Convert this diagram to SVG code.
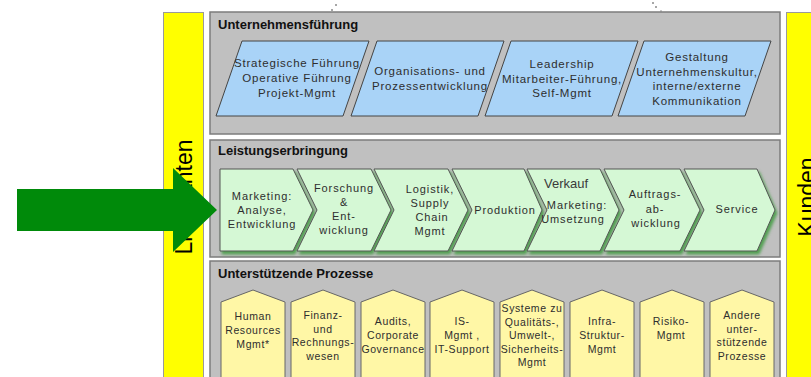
<svg xmlns="http://www.w3.org/2000/svg" width="811" height="377" viewBox="0 0 811 377">
<defs>
<filter id="gshadow" x="-10%" y="-10%" width="130%" height="130%">
<feGaussianBlur in="SourceAlpha" stdDeviation="1.6" result="b"/>
<feOffset in="b" dx="2" dy="3" result="o"/>
<feFlood flood-color="#3f9a3f" flood-opacity="0.85"/>
<feComposite in2="o" operator="in" result="s"/>
<feMerge><feMergeNode in="s"/><feMergeNode in="SourceGraphic"/></feMerge>
</filter>
</defs>
<style>
.col{fill:#ffff00;stroke:#9a9a9a;stroke-width:1}
.panel{fill:#c0c0c0;stroke:#7c7c7c;stroke-width:1.5}
.title{font-family:"Liberation Sans",Arial,sans-serif;font-weight:bold;font-size:13px;fill:#111}
.par{fill:#a9d3f7;stroke:#444;stroke-width:1}
.chev{fill:#d5f8d5;stroke:#555;stroke-width:1;filter:url(#gshadow)}
.pent{fill:#fff7a6;stroke:#666;stroke-width:1}
.t1{font-family:"Liberation Sans",Arial,sans-serif;font-size:11.5px;letter-spacing:0.8px;fill:#2e2e2e;text-anchor:middle}
.t2{font-family:"Liberation Sans",Arial,sans-serif;font-size:11px;letter-spacing:0.9px;fill:#2e2e2e;text-anchor:middle}
.t3{font-family:"Liberation Sans",Arial,sans-serif;font-size:10.5px;letter-spacing:0.6px;fill:#2e2e2e;text-anchor:middle}
.big{font-family:"Liberation Sans",Arial,sans-serif;font-size:23px;fill:#000;text-anchor:middle}
.dot{fill:#8a8a8a}
</style>

<g id="artifacts">
<circle class="dot" cx="336" cy="5" r="1"/>
<circle class="dot" cx="332" cy="10" r="1"/>
<circle class="dot" cx="653" cy="3" r="1"/>
<circle class="dot" cx="656" cy="7" r="1"/>
<circle class="dot" cx="661" cy="11" r="0.8"/>
</g>

<g id="lieferanten">
<rect class="col" x="163.5" y="12.5" width="40" height="370"/>
<text class="big" transform="translate(192,197) rotate(-90)">Lieferanten</text>
</g>
<g id="kunden">
<rect class="col" x="786.5" y="12.5" width="40" height="370"/>
<text class="big" transform="translate(815,197) rotate(-90)">Kunden</text>
</g>

<g id="panel-unternehmensfuehrung">
<rect class="panel" x="210" y="12" width="570" height="122"/>
<text class="title" x="218" y="29">Unternehmensführung</text>
</g>
<g id="panel-leistungserbringung">
<rect class="panel" x="210" y="140" width="570" height="117"/>
<text class="title" x="218" y="155">Leistungserbringung</text>
</g>
<g id="panel-unterstuetzende">
<rect class="panel" x="210" y="261" width="570" height="125"/>
<text class="title" x="218" y="278">Unterstützende Prozesse</text>
</g>

<g id="u1">
<polygon class="par" points="242,41 369,41 343,116 216,116"/>
<text class="t1" x="297" y="67">Strategische Führung</text>
<text class="t1" x="297" y="82">Operative Führung</text>
<text class="t1" x="297" y="97">Projekt-Mgmt</text>
</g>
<g id="u2">
<polygon class="par" points="377,41 504,41 478,116 351,116"/>
<text class="t1" x="430" y="75">Organisations- und</text>
<text class="t1" x="430" y="90">Prozessentwicklung</text>
</g>
<g id="u3">
<polygon class="par" points="511,41 638,41 612,116 485,116"/>
<text class="t1" x="562" y="68">Leadership</text>
<text class="t1" x="562" y="83">Mitarbeiter-Führung,</text>
<text class="t1" x="562" y="97">Self-Mgmt</text>
</g>
<g id="u4">
<polygon class="par" points="644,41 771,41 745,116 618,116"/>
<text class="t1" x="697" y="61">Gestaltung</text>
<text class="t1" x="697" y="75.5">Unternehmenskultur,</text>
<text class="t1" x="697" y="90">interne/externe</text>
<text class="t1" x="697" y="104.5">Kommunikation</text>
</g>

<g id="l1">
<polygon class="chev" points="220,169 293,169 313,210 293,251 220,251"/>
<text class="t2" x="262" y="200">Marketing:</text>
<text class="t2" x="262" y="214">Analyse,</text>
<text class="t2" x="262" y="227.5">Entwicklung</text>
</g>
<g id="l2">
<polygon class="chev" points="297,169 371,169 391,210 371,251 297,251 317,210"/>
<text class="t2" x="344" y="192">Forschung</text>
<text class="t2" x="344" y="206">&amp;</text>
<text class="t2" x="344" y="220">Ent-</text>
<text class="t2" x="344" y="234">wicklung</text>
</g>
<g id="l3">
<polygon class="chev" points="374,169 448,169 468,210 448,251 374,251 394,210"/>
<text class="t2" x="430" y="193">Logistik,</text>
<text class="t2" x="430" y="207">Supply</text>
<text class="t2" x="432" y="221">Chain</text>
<text class="t2" x="430" y="235">Mgmt</text>
</g>
<g id="l4">
<polygon class="chev" points="452,169 524,169 542,210 524,251 452,251 472,210"/>
<text class="t2" x="505" y="214">Produktion</text>
</g>
<g id="l5">
<polygon class="chev" points="527,169 600,169 619,210 600,251 527,251 547,210"/>
<text x="566" y="188" style="font-family:'Liberation Sans',Arial,sans-serif;font-size:13px;fill:#3a3a3a;text-anchor:middle">Verkauf</text>
<text class="t2" x="577" y="209">Marketing:</text>
<text class="t2" x="573" y="223">Umsetzung</text>
</g>
<g id="l6">
<polygon class="chev" points="604,169 680,169 700,210 680,251 604,251 624,210"/>
<text class="t2" x="655" y="198">Auftrags-</text>
<text class="t2" x="655" y="212.5">ab-</text>
<text class="t2" x="656" y="227">wicklung</text>
</g>
<g id="l7">
<polygon class="chev" points="684,169 757,169 775,210 757,251 684,251 704,210"/>
<text class="t2" x="737" y="213">Service</text>
</g>

<g id="s1">
<polygon class="pent" points="221,302 253,290 285,302 285,386 221,386"/>
<text class="t3" x="253" y="320">Human</text>
<text class="t3" x="253" y="334">Resources</text>
<text class="t3" x="253" y="347.5">Mgmt*</text>
</g>
<g id="s2">
<polygon class="pent" points="291,302 323,290 355,302 355,386 291,386"/>
<text class="t3" x="323" y="319">Finanz-</text>
<text class="t3" x="323" y="332.5">und</text>
<text class="t3" x="323" y="346">Rechnungs-</text>
<text class="t3" x="323" y="359.5">wesen</text>
</g>
<g id="s3">
<polygon class="pent" points="361,302 393,290 425,302 425,386 361,386"/>
<text class="t3" x="393" y="325">Audits,</text>
<text class="t3" x="393" y="339">Corporate</text>
<text class="t3" x="393" y="352.5">Governance</text>
</g>
<g id="s4">
<polygon class="pent" points="430,302 462,290 494,302 494,386 430,386"/>
<text class="t3" x="462" y="325">IS-</text>
<text class="t3" x="462" y="339">Mgmt ,</text>
<text class="t3" x="462" y="352.5">IT-Support</text>
</g>
<g id="s5">
<polygon class="pent" points="500,302 532,290 564,302 564,386 500,386"/>
<text class="t3" x="532" y="312">Systeme zu</text>
<text class="t3" x="532" y="325.5">Qualitäts-,</text>
<text class="t3" x="532" y="339">Umwelt-,</text>
<text class="t3" x="532" y="352.5">Sicherheits-</text>
<text class="t3" x="532" y="366">Mgmt</text>
</g>
<g id="s6">
<polygon class="pent" points="570,302 602,290 634,302 634,386 570,386"/>
<text class="t3" x="602" y="325">Infra-</text>
<text class="t3" x="602" y="339">Struktur-</text>
<text class="t3" x="602" y="352.5">Mgmt</text>
</g>
<g id="s7">
<polygon class="pent" points="640,302 672,290 704,302 704,386 640,386"/>
<text class="t3" x="671" y="325">Risiko-</text>
<text class="t3" x="671" y="339">Mgmt</text>
</g>
<g id="s8">
<polygon class="pent" points="710,302 742,290 774,302 774,386 710,386"/>
<text class="t3" x="742" y="319">Andere</text>
<text class="t3" x="742" y="332.5">unter-</text>
<text class="t3" x="742" y="346">stützende</text>
<text class="t3" x="742" y="359.5">Prozesse</text>
</g>

<g id="connectors">
<polygon fill="#008a0a" points="17,189 173,189 173,168 217,210 173,252 173,231 17,231"/>
</g>
</svg>
